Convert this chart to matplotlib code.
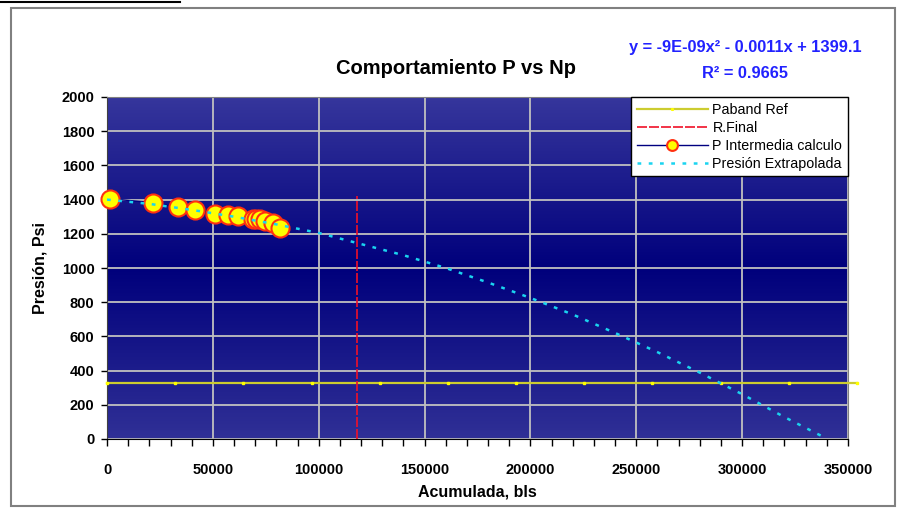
import numpy as np
import matplotlib
matplotlib.use("Agg")
import matplotlib.pyplot as plt
from matplotlib.patches import Rectangle
from matplotlib.lines import Line2D
from matplotlib.ticker import MultipleLocator

plt.rcParams['font.family'] = ['Liberation Sans', 'DejaVu Sans']

# presion de abandono de referencia
paband_np = [0, 32200, 64400, 96600, 128800, 161000, 193200, 225400, 257600, 289800, 322000, 354200]
paband_p = [330] * len(paband_np)

# reserva final
rfinal_np = [118000, 118000]
rfinal_p = [0, 1420]

# presiones intermedias calculadas
pint_np = [1400, 21750, 33600, 41800, 50900, 57200, 62100, 69100, 70600, 72200, 74600, 78200, 81700]
pint_p = [1405, 1382, 1355, 1337, 1318, 1312, 1304, 1288, 1286, 1284, 1277, 1261, 1232]

# presion extrapolada con la tendencia
pext_np = [0, 20000, 40000, 60000, 80000, 100000, 120000, 140000, 160000, 180000,
           200000, 220000, 240000, 260000, 280000, 300000, 320000, 340000]
pext_p = [1400, 1375, 1340, 1300, 1255, 1205, 1140, 1075, 1000, 915,
          825, 728, 620, 508, 388, 262, 128, 2]

fig = plt.figure(figsize=(9, 5.08), dpi=100)
fig.patch.set_facecolor('white')

# marco del grafico
fig.add_artist(Rectangle((11 / 900, 1 - 506 / 508), 884 / 900, 498 / 508,
                         transform=fig.transFigure, fill=False,
                         edgecolor='#808080', lw=1.5))
fig.add_artist(Line2D([0, 180 / 900], [1 - 2 / 508, 1 - 2 / 508],
                      transform=fig.transFigure, color='black', lw=1.5))

ax = fig.add_axes([107 / 900, 1 - 439 / 508, 741 / 900, 342 / 508])

# fondo degradado del area de trazado
top = np.array([0x36, 0x36, 0x9c]) / 255
mid = np.array([0x00, 0x00, 0x7c]) / 255
bot = np.array([0x30, 0x30, 0x96]) / 255
t = np.linspace(0, 1, 256)[:, None]
grad = np.where(t < 0.5, top + (mid - top) * (t / 0.5), mid + (bot - mid) * ((t - 0.5) / 0.5))
ax.imshow(grad[:, None, :], extent=[0, 1, 0, 1], transform=ax.transAxes,
          aspect='auto', zorder=0, interpolation='bilinear')

ax.plot(paband_np, paband_p, color='#cccc30', lw=1.6, marker='s', ms=2,
        mfc='#ffff00', mec='#ffff00', zorder=3, clip_on=False, label='Paband Ref')
ax.plot(rfinal_np, rfinal_p, color='#f01028', lw=1.2, dashes=(6, 1.2),
        zorder=3, label='R.Final')
ax.plot(pint_np, pint_p, color='#000080', lw=1, marker='o', ms=13,
        mfc='#ffff00', mec='#ff3010', mew=1.5, zorder=4, clip_on=False,
        label='P Intermedia calculo')
ax.plot(pext_np, pext_p, color='#1ad4f0', lw=1.8, ls=(0, (1.5, 3)),
        zorder=5, label='Presión Extrapolada')

ax.set_xlim(0, 350000)
ax.set_ylim(0, 2000)
ax.xaxis.set_major_locator(MultipleLocator(50000))
ax.xaxis.set_minor_locator(MultipleLocator(10000))
ax.yaxis.set_major_locator(MultipleLocator(200))
ax.grid(True, which='major', color='#c0c0c0', lw=1.3)

ax.tick_params(axis='x', which='both', direction='out', length=5, width=1, pad=12)
ax.tick_params(axis='y', direction='out', length=4, width=1, pad=5)
for lab in ax.get_xticklabels() + ax.get_yticklabels():
    lab.set_fontweight('bold')
    lab.set_fontsize(10.5)

for side in ['top', 'right']:
    ax.spines[side].set_color('#808080')
ax.spines['left'].set_color('#404040')
ax.spines['bottom'].set_color('black')

ax.set_xlabel('Acumulada, bls', fontsize=11.5, fontweight='bold', labelpad=6)
ax.set_ylabel('Presión, Psi', fontsize=11.5, fontweight='bold', labelpad=10)

fig.text(456 / 900, 1 - 68 / 508, 'Comportamiento P vs Np', ha='center', va='center',
         fontsize=14.5, fontweight='bold')
fig.text(745 / 900, 1 - 47 / 508, 'y = -9E-09x² - 0.0011x + 1399.1', ha='center',
         va='center', fontsize=11.8, fontweight='bold', color='#2222ff')
fig.text(745 / 900, 1 - 73 / 508, 'R² = 0.9665', ha='center', va='center',
         fontsize=11.8, fontweight='bold', color='#2222ff')

leg = ax.legend(loc='upper right', borderaxespad=0, fontsize=10.3, frameon=True,
                fancybox=False, handlelength=5.0, labelspacing=0.28,
                borderpad=0.4, handletextpad=0.3, markerscale=0.6)
leg.get_frame().set_edgecolor('black')
leg.get_frame().set_linewidth(1)
leg.get_frame().set_alpha(1)
leg.set_zorder(10)

fig.savefig('out.png', dpi=100)
